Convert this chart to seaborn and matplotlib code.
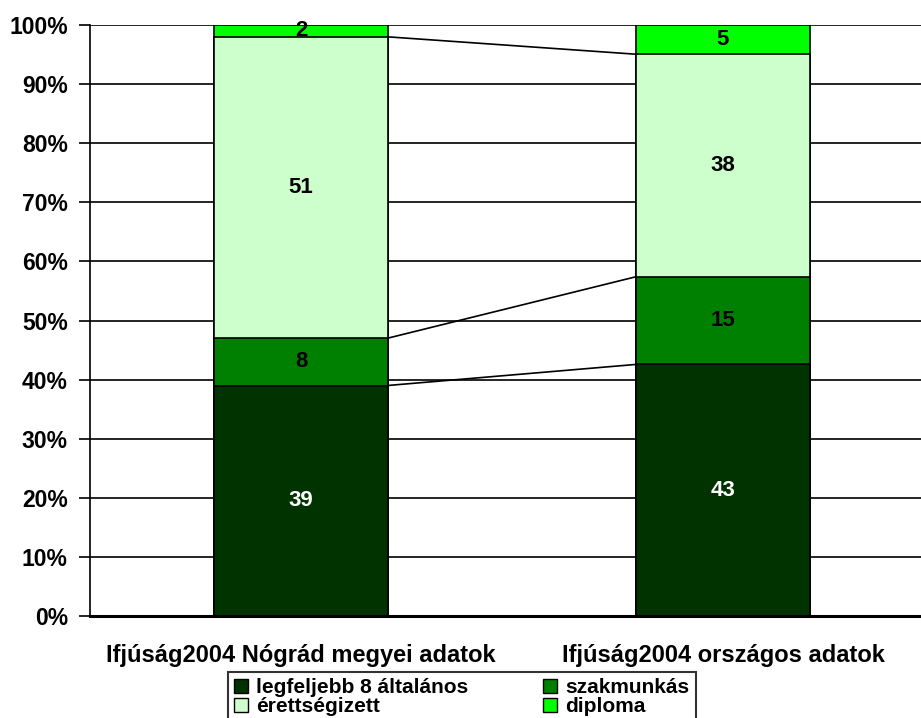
import numpy as np
import pandas as pd
import matplotlib
matplotlib.use("Agg")
import matplotlib.pyplot as plt
import seaborn as sns
from matplotlib.patches import Patch

# adatok
categories = ["Ifjúság2004 Nógrád megyei adatok", "Ifjúság2004 országos adatok"]
series = ["legfeljebb 8 általános", "szakmunkás", "érettségizett", "diploma"]
alap = [39, 43]
szakmunkas = [8, 15]
erettsegi = [51, 38]
diploma = [2, 5]
colors = ["#003300", "#008000", "#CCFFCC", "#00FF00"]
label_colors = ["white", "black", "black", "black"]

sns.set_style("white")
plt.rcParams["font.family"] = ["Liberation Sans", "DejaVu Sans"]
plt.rcParams["text.color"] = "black"
plt.rcParams["xtick.color"] = "black"
plt.rcParams["ytick.color"] = "black"

vals = np.array([alap, szakmunkas, erettsegi, diploma], dtype=float)
pct = vals / vals.sum(axis=0) * 100
cum = pct.cumsum(axis=0)

df = pd.DataFrame({"kategoria": categories})
for i, s in enumerate(series):
    df[s] = cum[i]

fig = plt.figure(figsize=(9.21, 7.18), dpi=100)
ax = fig.add_axes([90 / 921, 102 / 718, 844 / 921, 591 / 718])

# rácsvonalak
for y in range(10, 101, 10):
    ax.axhline(y, color="black", lw=1.2, zorder=0)

# halmozott oszlopok: felülről lefelé rajzolva
width = 0.41
for i in reversed(range(len(series))):
    sns.barplot(data=df, x="kategoria", y=series[i], color=colors[i],
                edgecolor="black", linewidth=1.2, width=width, ax=ax,
                saturation=1, zorder=2)

# sorozatvonalak
for i in range(len(series) - 1):
    ax.plot([0 + width / 2, 1 - width / 2], [cum[i][0], cum[i][1]],
            color="black", lw=1.2, zorder=1)

# értékcímkék
for i in range(len(series)):
    for j in range(len(categories)):
        bottom = cum[i][j] - pct[i][j]
        ax.text(j, bottom + pct[i][j] / 2, f"{int(vals[i][j])}",
                ha="center", va="center", fontsize=16, fontweight="bold",
                color=label_colors[i], zorder=3)

ax.set_xlim(-0.5, 1.5)
ax.set_ylim(0, 100)
ax.set_yticks(range(0, 101, 10))
ax.set_yticklabels([f"{t}%" for t in range(0, 101, 10)], fontsize=16.5,
                   fontweight="bold")
ax.set_xticks([0, 1])
ax.set_xticklabels(categories, fontsize=17, fontweight="bold")
ax.set_xticks([0.5], minor=True)
ax.tick_params(axis="x", which="major", length=0, pad=20)
ax.tick_params(axis="x", which="minor", length=8, width=1.2, direction="out",
               color="black")
ax.tick_params(axis="y", length=8, width=1.2, direction="out", color="black",
               left=True, pad=8)
ax.set_xlabel("")
ax.set_ylabel("")

for s in ["top", "right"]:
    ax.spines[s].set_visible(False)
ax.spines["left"].set_color("black")
ax.spines["left"].set_linewidth(1.2)
ax.spines["bottom"].set_color("black")
ax.spines["bottom"].set_linewidth(2.2)

handles = [Patch(facecolor=colors[k], edgecolor="black", label=series[k])
           for k in [0, 2, 1, 3]]
leg = fig.legend(handles=handles, loc="upper left", ncol=2,
                 bbox_to_anchor=(228 / 921, 46 / 718),
                 bbox_transform=fig.transFigure,
                 prop={"size": 15, "weight": "bold"},
                 frameon=True, fancybox=False, shadow=False,
                 handlelength=0.65, handleheight=0.65, handletextpad=0.4,
                 columnspacing=3.6, labelspacing=0.0, borderpad=0.3,
                 borderaxespad=0)
leg.get_frame().set_edgecolor("black")
leg.get_frame().set_linewidth(1.5)

fig.savefig("out.png", dpi=100)
